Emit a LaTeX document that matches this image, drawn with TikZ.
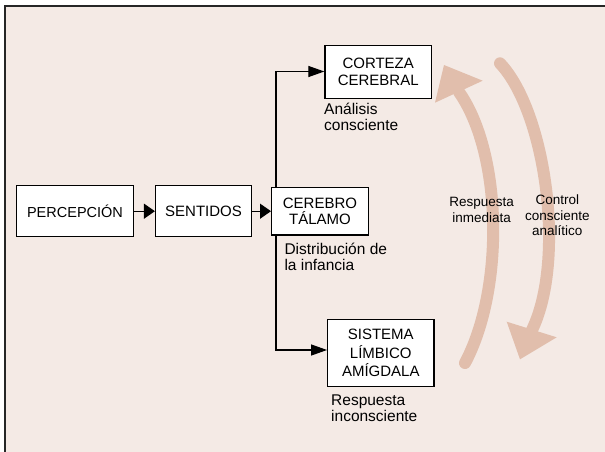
\documentclass[tikz,border=0pt]{standalone}
\usepackage{fontspec}
\setmainfont{Liberation Sans}
\usetikzlibrary{arrows.meta}
\definecolor{bgpink}{RGB}{244,234,229}
\definecolor{arcpink}{RGB}{225,190,172}
\begin{document}
\begin{tikzpicture}[x=1pt,y=-1pt,
  box/.style={draw=black, line width=1.2pt, fill=white, inner sep=0pt, align=center,
    font=\fontsize{15}{16.7}\selectfont},
  lbl/.style={inner sep=0pt, align=left, anchor=west, font=\fontsize{15.5}{16}\selectfont},
  arclbl/.style={inner sep=0pt, align=center, font=\fontsize{13.5}{15.5}\selectfont},
  conn/.style={line width=1.2pt, draw=black},
  smalltip/.style={-{Triangle[length=11pt,width=15pt]}},
  bigtip/.style={-{Triangle[length=16pt,width=11pt]}},
  shaft/.style={draw=arcpink, line width=12pt, line cap=round},
  head/.style={fill=arcpink, draw=none}]
\useasboundingbox (0,0) rectangle (605,452);
\fill[white] (0,0) rectangle (605,452);
\fill[bgpink] (4.7,6) rectangle (605,452);
\draw[line width=1.6pt, black!85] (4.7,452) -- (4.7,6) -- (605,6);

% big curved arrows
\draw[shaft] (465,363) .. controls (504,290) and (503,155) .. (459,92);
\fill[head] (435,102.7) -- (444,65) -- (482.7,80.7) -- cycle;
\draw[shaft] (500,63.3) .. controls (546,112) and (566,260) .. (532,330);
\fill[head] (506.7,321.7) -- (556.7,337.3) -- (520,359.3) -- cycle;

% boxes
\node[box, minimum width=117pt, minimum height=51pt,
  font=\fontsize{14.5}{16.7}\selectfont] (perc) at (75,211.2) {PERCEPCIÓN};
\node[box, minimum width=96pt, minimum height=51pt] (sent) at (203.5,211.2) {SENTIDOS};
\node[box, minimum width=96.8pt, minimum height=47.7pt] (cere) at (320,211.2) {CEREBRO\\TÁLAMO};
\node[box, minimum width=106.5pt, minimum height=52.6pt] (cort) at (378.2,72) {CORTEZA\\CEREBRAL};
\node[box, minimum width=106.3pt, minimum height=67.4pt,
  font=\fontsize{15}{18.7}\selectfont] (sist) at (380.8,353) {SISTEMA\\LÍMBICO\\AMÍGDALA};

\coordinate (vx) at (276,0);

% connectors
\draw[conn, smalltip] (perc.east) -- (sent.west);
\draw[conn, smalltip] (sent.east) -- (cere.west);
\draw[conn, bigtip] (cere.north -| vx) |- ([yshift=0.5pt]cort.west);
\draw[conn, bigtip] (cere.south -| vx) |- ([yshift=3pt]sist.west);

% labels
\node[lbl] (lcort) at (324,117.2) {Análisis\\consciente};
\node[lbl] (lcere) at (284.3,256.7) {Distribución de\\la infancia};
\node[lbl] (lsist) at (331,407.8) {Respuesta\\inconsciente};
\node[arclbl] (linm) at (481.7,209.8) {Respuesta\\inmediata};
\node[arclbl] (lctl) at (557.3,215.5) {Control\\consciente\\analítico};
\end{tikzpicture}
\end{document}
